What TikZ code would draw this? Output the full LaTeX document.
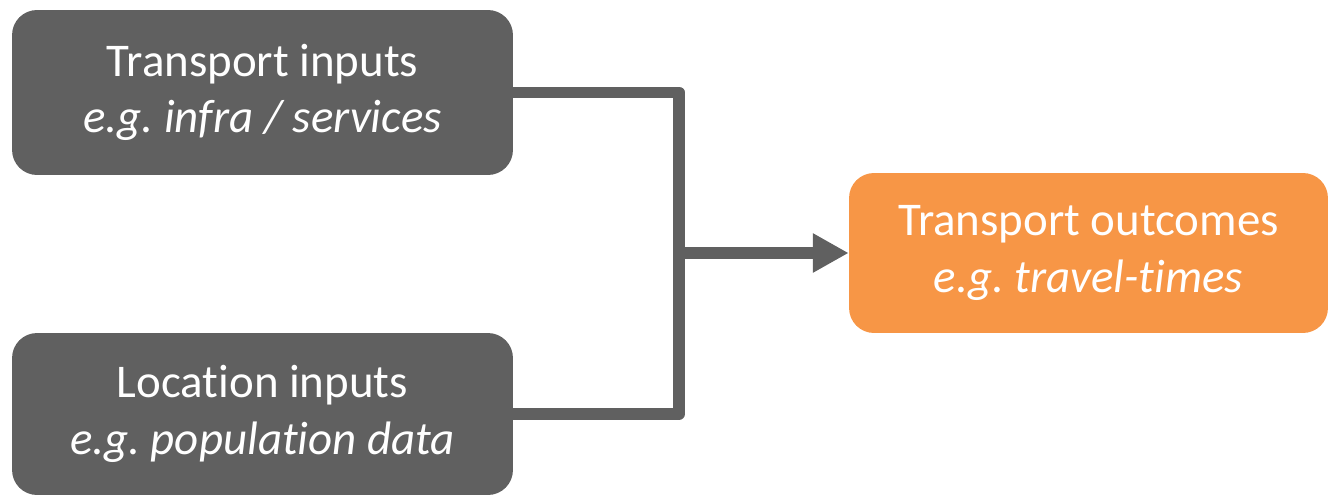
\documentclass[tikz,border=0pt]{standalone}
\usepackage{fontspec}
\setmainfont{Carlito}[Ligatures=NoCommon]
\usetikzlibrary{arrows.meta}
\definecolor{boxgray}{HTML}{606060}
\definecolor{boxorange}{HTML}{F79646}
\frenchspacing

\begin{document}
\begin{tikzpicture}[x=0.02cm,y=-0.02cm,
  inbox/.style={fill=boxgray,text=white,rounded corners=0.5cm,
    minimum width=10.02cm,align=center,
    font=\fontsize{26.7}{32.3}\selectfont},
  outbox/.style={inbox,fill=boxorange,minimum width=9.58cm,minimum height=3.2cm},
  link/.style={draw=boxgray,line width=6.8pt,line join=round}]
\useasboundingbox (0,0) rectangle (1329,497);
% The two input boxes
\node[inbox,minimum height=3.3cm] (TI) at (262.5,92.5)
  {Transport inputs\\\textit{e.g. infra / services}};
\node[inbox,minimum height=3.24cm] (LI) at (262.5,414)
  {Location inputs\\\textit{e.g. population data}};
% The outcome box
\node[outbox] (TO) at (1088.5,253)
  {Transport outcomes\\\textit{e.g. travel-times}};
%% Connectors join and then point to the outcome
\coordinate (J) at (679,253);
\draw[link] (TI.east) -| (J) |- (LI.east);
\draw[link,-{Triangle[length=20.4pt,width=21pt]}] (J) -- (TO.west);
\end{tikzpicture}
\end{document}
